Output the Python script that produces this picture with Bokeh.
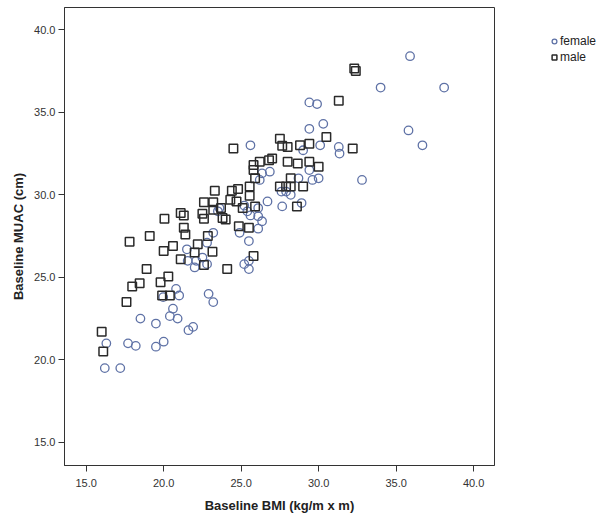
from bokeh.plotting import figure
from bokeh.layouts import row
from bokeh.models import Range1d, FixedTicker, NumeralTickFormatter, Legend, LegendItem, ColumnDataSource
from bokeh.embed import file_html
from bokeh.resources import INLINE

# Female: Baseline BMI vs Baseline MUAC
female_bmi = [16.2, 17.2, 16.3, 17.7, 18.2, 19.5, 20.0, 18.5, 19.5, 20.4, 20.6, 20.9, 21.9, 21.6,
              20.8, 21.0, 19.97, 22.9, 23.2, 21.5, 22.8, 22.1, 22.5, 22.8, 22.0, 21.55, 23.2,
              25.2, 25.5, 25.5, 25.5, 24.9, 26.1, 26.35, 26.1, 25.4, 25.6, 25.2, 23.6, 23.5, 26.1,
              26.7, 27.65, 28.9, 27.6, 27.9, 28.2, 28.7, 29.6, 30.0, 29.4, 26.2, 26.85, 26.35,
              25.6, 29.0, 30.1, 31.3, 31.35, 32.8, 29.4, 30.3, 29.4, 29.9, 34.0, 35.9, 38.1,
              35.8, 36.7]
female_muac = [19.5, 19.5, 21.0, 21.0, 20.85, 20.8, 21.1, 22.5, 22.2, 22.65, 23.1, 22.5, 22.0, 21.8,
               24.3, 23.9, 23.8, 24.0, 23.5, 26.7, 27.1, 26.0, 26.2, 25.8, 25.6, 26.0, 27.7,
               25.8, 26.0, 25.5, 27.2, 27.7, 27.95, 28.4, 28.7, 29.0, 28.75, 29.35, 29.2, 29.0, 29.2,
               29.6, 29.3, 29.5, 30.2, 30.2, 30.0, 31.0, 30.9, 31.0, 31.5, 30.9, 31.4, 31.3,
               33.0, 32.7, 33.0, 32.9, 32.5, 30.9, 34.0, 34.3, 35.6, 35.5, 36.5, 38.4, 36.5,
               33.9, 33.0]

# Male: Baseline BMI vs Baseline MUAC
male_bmi = [16.0, 16.1, 17.6, 17.8, 17.97, 18.45, 18.9, 19.1, 19.8, 19.9, 20.4, 20.0, 20.05, 20.3,
            20.6, 21.1, 21.1, 21.3, 21.3, 21.4, 22.0, 22.2, 22.6, 22.6, 22.6, 22.5, 22.85, 23.15,
            23.2, 23.2, 23.7, 23.3, 23.8, 24.0, 24.1, 24.3, 24.7, 24.4, 24.8, 24.5, 24.85, 25.1,
            25.5, 25.55, 25.55, 25.8, 25.9, 25.8, 25.8, 25.9, 26.2, 26.8, 27.0, 27.5, 27.65, 28.0,
            28.0, 28.2, 27.5, 27.9, 28.2, 28.6, 28.65, 28.8, 29.0, 29.4, 29.4, 30.0, 30.5, 31.3,
            32.2, 32.3, 32.4]
male_muac = [21.7, 20.5, 23.5, 27.15, 24.45, 24.65, 25.5, 27.5, 24.7, 23.9, 23.9, 26.6, 28.55, 25.05,
             26.9, 26.1, 28.9, 28.75, 28.0, 27.6, 26.5, 27.0, 25.75, 29.55, 28.55, 28.85, 27.5, 26.55,
             29.55, 29.1, 29.2, 30.25, 28.6, 28.5, 25.5, 29.7, 29.6, 30.25, 30.35, 32.8, 28.1, 29.2,
             28.0, 30.5, 29.95, 26.3, 29.3, 31.8, 31.5, 31.0, 32.0, 32.1, 32.2, 33.4, 32.97, 32.9,
             32.0, 31.0, 30.5, 30.5, 30.5, 29.3, 31.9, 33.0, 30.5, 33.1, 32.0, 31.7, 33.5, 35.7,
             32.8, 37.65, 37.5]

series_names = ["female", "male"]
x_ticks = [15, 20, 25, 30, 35, 40]
y_ticks = [15, 20, 25, 30, 35, 40]

FONT = "Liberation Sans"
FEM_COLOR = "#5f72a6"
MALE_COLOR = "#2a2a2a"

p = figure(width=500, height=526, output_backend="svg", toolbar_location=None,
           x_range=Range1d(13.6, 41.35), y_range=Range1d(13.6, 41.35),
           min_border_left=64, min_border_right=6, min_border_top=7, min_border_bottom=61)

p.xgrid.visible = False
p.ygrid.visible = False
p.outline_line_color = "#333333"
p.outline_line_width = 1

fem_src = ColumnDataSource(dict(x=female_bmi, y=female_muac))
male_src = ColumnDataSource(dict(x=male_bmi, y=male_muac))

p.scatter("x", "y", source=fem_src, marker="circle", size=8.5, fill_color=None,
          line_color=FEM_COLOR, line_width=1.3)
p.scatter("x", "y", source=male_src, marker="square", size=8.5, fill_color=None,
          line_color=MALE_COLOR, line_width=1.5)

for ax, ticks, lbl in ((p.xaxis[0], x_ticks, "Baseline BMI (kg/m x m)"),
                       (p.yaxis[0], y_ticks, "Baseline MUAC (cm)")):
    ax.ticker = FixedTicker(ticks=ticks)
    ax.formatter = NumeralTickFormatter(format="0.0")
    ax.axis_label = lbl
    ax.axis_label_text_font = FONT
    ax.axis_label_text_font_style = "bold"
    ax.axis_label_text_font_size = "13px"
    ax.axis_label_text_color = "#222222"
    ax.major_label_text_font = FONT
    ax.major_label_text_font_size = "11px"
    ax.major_label_text_color = "#333333"
    ax.major_tick_in = 0
    ax.major_tick_out = 6
    ax.minor_tick_line_color = None
    ax.axis_line_color = "#333333"
    ax.major_tick_line_color = "#333333"

p.xaxis[0].major_label_standoff = 7
p.xaxis[0].axis_label_standoff = 8
p.yaxis[0].major_label_standoff = 3
p.yaxis[0].axis_label_standoff = 5

# Legend panel: a separate figure holding only the key (its data lies outside its ranges)
lg = figure(width=100, height=526, output_backend="svg", toolbar_location=None,
            x_axis_type=None, y_axis_type=None,
            min_border_left=0, min_border_right=0, min_border_top=7, min_border_bottom=61,
            x_range=Range1d(0, 1), y_range=Range1d(0, 1))
lg.outline_line_color = None
lg.grid.visible = False
kf = lg.scatter("x", "y", source=fem_src, marker="circle", size=8, fill_color=None,
                line_color=FEM_COLOR, line_width=1.3)
km = lg.scatter("x", "y", source=male_src, marker="square", size=8, fill_color=None,
                line_color=MALE_COLOR, line_width=1.5)
legend = Legend(items=[LegendItem(label=series_names[0], renderers=[kf]),
                       LegendItem(label=series_names[1], renderers=[km])],
                location=(48, 400), padding=0, margin=0, spacing=0,
                glyph_width=12, glyph_height=16, label_height=16, label_standoff=0,
                label_text_font=FONT, label_text_font_size="12px", label_text_color="#222222",
                border_line_color=None, background_fill_alpha=0)
lg.add_layout(legend, "center")

open("out.html", "w").write(file_html(row(p, lg), INLINE))
